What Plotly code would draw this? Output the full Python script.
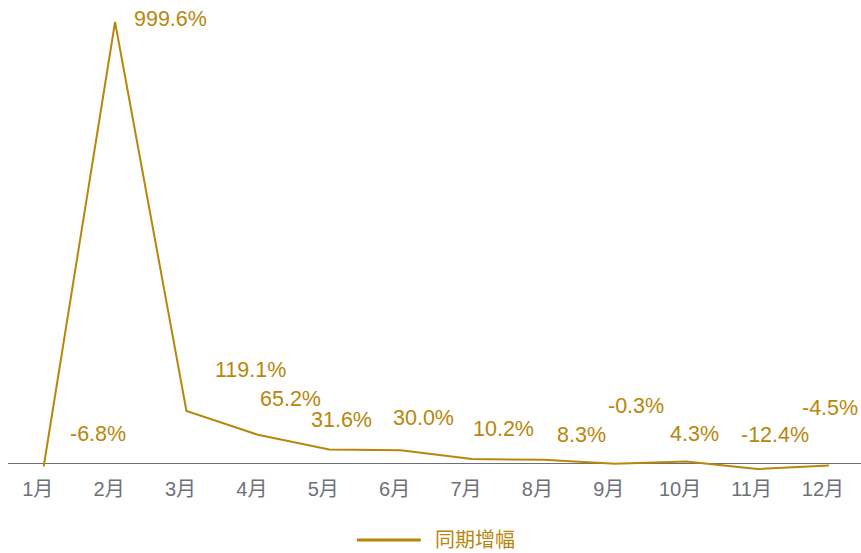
import plotly.graph_objects as go

months = ["1月", "2月", "3月", "4月", "5月", "6月", "7月", "8月", "9月", "10月", "11月", "12月"]
growth = [-6.8, 999.6, 119.1, 65.2, 31.6, 30.0, 10.2, 8.3, -0.3, 4.3, -12.4, -4.5]
series_name = "同期增幅"

# label offsets in pixels (style only)
label_dx = [54, 55, 64, 33, 12, 23, 32, 38, 21, 8, 17, 1]
label_dy = [33, 3, 41, 36, 30, 32, 30, 25, 58, 28, 34, 58]

GOLD = "#B8860B"
AXIS = "#6E7079"
FONT = "Liberation Sans, Noto Sans CJK SC, sans-serif"

fig = go.Figure()
fig.add_trace(go.Scatter(
    x=months, y=growth, mode="lines", name=series_name,
    line=dict(color=GOLD, width=2), showlegend=False,
))

for m, v, dx, dy in zip(months, growth, label_dx, label_dy):
    fig.add_annotation(x=m, y=v, text=f"{v:.1f}%", showarrow=False,
                       xshift=dx, yshift=dy, xanchor="center", yanchor="middle",
                       font=dict(family=FONT, size=21.5, color=GOLD))

# legend (custom to match long line sample)
fig.add_shape(type="line", xref="paper", yref="paper",
              x0=0.409, x1=0.484, y0=-0.1325, y1=-0.1325,
              line=dict(color=GOLD, width=3))
fig.add_annotation(xref="paper", yref="paper", x=0.498, y=-0.1325,
                   text=series_name, showarrow=False, xanchor="left", yanchor="middle",
                   font=dict(family=FONT, size=20, color=GOLD))

fig.update_layout(
    width=861, height=553,
    margin=dict(l=8, r=0, t=10, b=75),
    paper_bgcolor="white", plot_bgcolor="white",
    font=dict(family=FONT),
    xaxis=dict(range=[-0.5, 11.45], showgrid=False, showline=False, zeroline=False,
               tickfont=dict(family=FONT, size=20, color=AXIS), ticks="",
               ticklabelshift=-6, ticklabelstandoff=-3),
    yaxis=dict(range=[-32.8, 1026.7], showgrid=False, showticklabels=False,
               zeroline=True, zerolinecolor=AXIS, zerolinewidth=1, showline=False),
)

fig.write_html("out.html", config={"displayModeBar": False},
               post_script="document.body.style.margin='0';document.body.style.overflow='hidden';")
